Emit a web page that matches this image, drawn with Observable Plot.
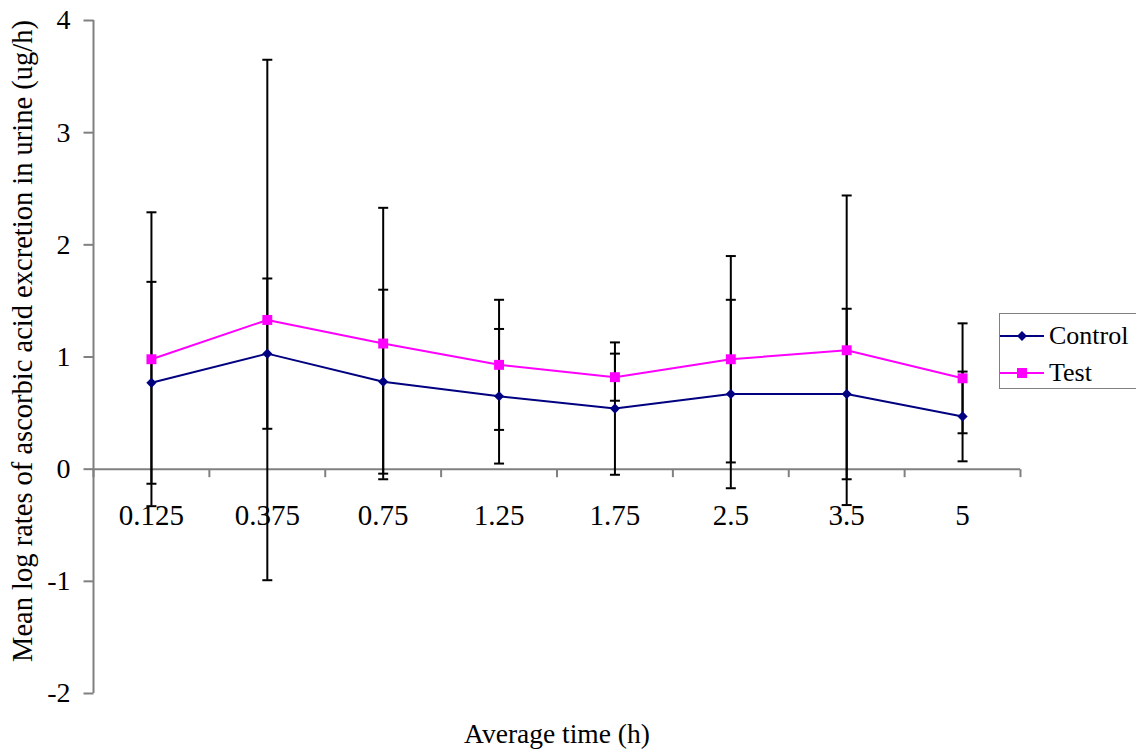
<!DOCTYPE html>
<html>
<head>
<meta charset="utf-8">
<script src="https://cdn.jsdelivr.net/npm/d3@7"></script>
<script src="https://cdn.jsdelivr.net/npm/@observablehq/plot@0.6"></script>
<style>
  html, body { margin: 0; padding: 0; background: white; overflow: hidden; }
  #wrap { position: relative; width: 1136px; height: 749px; }
  #legend { position: absolute; left: 999px; top: 313px; width: 150px; height: 74px;
    border: 1px solid #808080; background: white; font-family: "Liberation Serif", serif; font-size: 26px; color: black; }
  #legend .row { position: absolute; left: 0; height: 30px; display: flex; align-items: center; }
  #legend .row span { margin-left: 5px; }
</style>
</head>
<body>
<div id="wrap">
  <div id="chart"></div>
  <div id="legend"></div>
</div>
<script>
const categories = ["0.125", "0.375", "0.75", "1.25", "1.75", "2.5", "3.5", "5"];
const controlMean = [0.77, 1.03, 0.78, 0.65, 0.54, 0.67, 0.67, 0.47];
const controlErr  = [0.90, 0.67, 0.82, 0.60, 0.59, 0.84, 0.76, 0.40];
const testMean    = [0.98, 1.33, 1.12, 0.93, 0.82, 0.98, 1.06, 0.81];
const testErr     = [1.31, 2.32, 1.21, 0.58, 0.21, 0.92, 1.38, 0.49];
const yTicks = [-2, -1, 0, 1, 2, 3, 4];
const seriesNames = ["Control", "Test"];
const seriesColors = ["#000080", "#FF00FF"];
const xTitle = "Average time (h)";
const yTitle = "Mean log rates of ascorbic acid excretion in urine (ug/h)";

const rows = categories.map((c, i) => ({
  i, c, pos: i + 0.5,
  cm: controlMean[i], ce: controlErr[i],
  tm: testMean[i], te: testErr[i]
}));
const caps = rows.flatMap(d => [
  {pos: d.pos, y: d.cm - d.ce}, {pos: d.pos, y: d.cm + d.ce},
  {pos: d.pos, y: d.tm - d.te}, {pos: d.pos, y: d.tm + d.te}
]);
const boundaries = d3.range(categories.length + 1);

const rOf = size => Math.sqrt(size / Math.PI);
const tickDown = {draw(ctx, size) { const r = rOf(size); ctx.moveTo(0, 0); ctx.lineTo(0, r); }};
const tickLeft = {draw(ctx, size) { const r = rOf(size); ctx.moveTo(0, 0); ctx.lineTo(-r, 0); }};
const capSym   = {draw(ctx, size) { const r = rOf(size); ctx.moveTo(-r, 0); ctx.lineTo(r, 0); }};

const axisGray = "#808080";
const font = "Liberation Serif";

const chart = Plot.plot({
  width: 1136,
  height: 749,
  marginLeft: 93,
  marginRight: 116,
  marginTop: 20,
  marginBottom: 56,
  style: {fontFamily: font, background: "white", color: "black"},
  x: {domain: [0, categories.length], axis: null},
  y: {domain: [-2, 4], axis: null},
  marks: [
    Plot.ruleX([0], {stroke: axisGray, strokeWidth: 2}),
    Plot.ruleY([0], {stroke: axisGray, strokeWidth: 2}),
    Plot.dot(boundaries, {x: d => d, y: 0, symbol: tickDown, r: 8, stroke: axisGray, strokeWidth: 2, fill: "none"}),
    Plot.dot(yTicks, {x: 0, y: d => d, symbol: tickLeft, r: 10, stroke: axisGray, strokeWidth: 2, fill: "none"}),
    Plot.text(yTicks, {x: 0, y: d => d, text: d => String(d), textAnchor: "end", dx: -23, fontSize: 28, fontFamily: font, fill: "black"}),
    Plot.text(rows, {x: "pos", y: 0, text: "c", dy: 47, fontSize: 29, fontFamily: font, fill: "black"}),
    Plot.text([yTitle], {frameAnchor: "left", rotate: -90, textAnchor: "middle", dx: -82, dy: -16, lineAnchor: "top", fontSize: 28.5, fontFamily: font, fill: "black"}),
    Plot.text([xTitle], {frameAnchor: "bottom", dy: 49, fontSize: 27.5, fontFamily: font, fill: "black"}),
    Plot.ruleX(rows, {x: "pos", y1: d => d.cm - d.ce, y2: d => d.cm + d.ce, stroke: "black", strokeWidth: 2}),
    Plot.ruleX(rows, {x: "pos", y1: d => d.tm - d.te, y2: d => d.tm + d.te, stroke: "black", strokeWidth: 2}),
    Plot.dot(caps, {x: "pos", y: "y", symbol: capSym, r: 5, stroke: "black", strokeWidth: 2, fill: "none"}),
    Plot.line(rows, {x: "pos", y: "cm", stroke: seriesColors[0], strokeWidth: 2}),
    Plot.line(rows, {x: "pos", y: "tm", stroke: seriesColors[1], strokeWidth: 2}),
    Plot.dot(rows, {x: "pos", y: "cm", symbol: "diamond2", r: 4.6, fill: seriesColors[0], stroke: "none"}),
    Plot.dot(rows, {x: "pos", y: "tm", symbol: "square", r: 5.6, fill: seriesColors[1], stroke: "none"})
  ]
});
document.getElementById("chart").appendChild(chart);

// legend
const legend = document.getElementById("legend");
const symbols = ["diamond", "square"];
seriesNames.forEach((name, k) => {
  const row = document.createElement("div");
  row.className = "row";
  row.style.top = (k === 0 ? 7 : 44) + "px";
  const mk = symbols[k] === "square"
    ? `<rect x="17" y="10" width="10" height="10" fill="${seriesColors[k]}"/>`
    : `<path d="M22,10 L27,15 L22,20 L17,15 Z" fill="${seriesColors[k]}"/>`;
  row.innerHTML = `<svg width="44" height="30"><line x1="0" x2="44" y1="15" y2="15" stroke="${seriesColors[k]}" stroke-width="2"/>${mk}</svg><span>${name}</span>`;
  legend.appendChild(row);
});
</script>
</body>
</html>
